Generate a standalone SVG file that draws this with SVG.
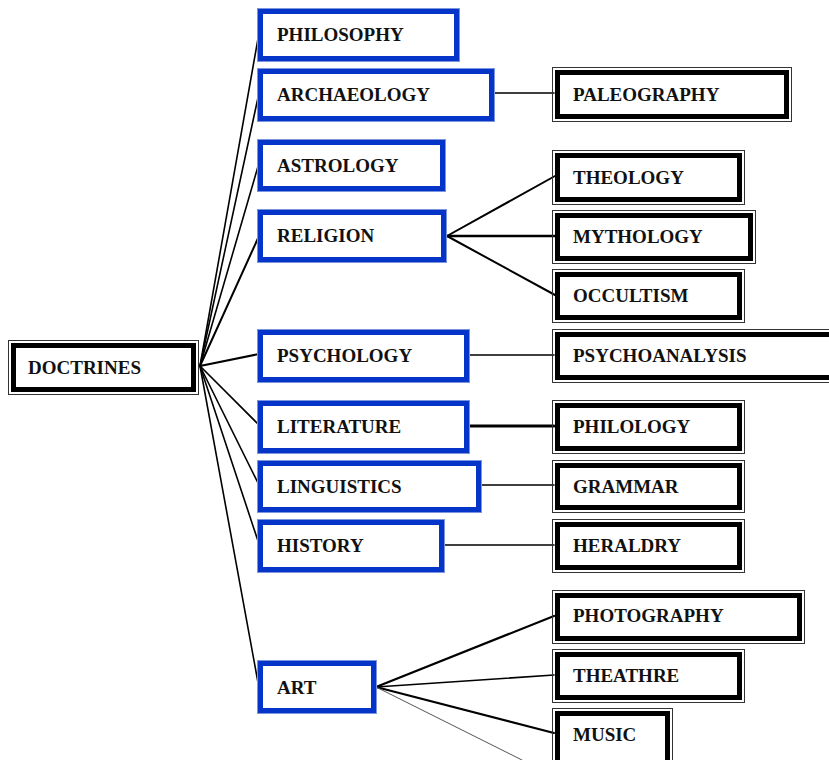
<svg xmlns="http://www.w3.org/2000/svg" width="829" height="760" viewBox="0 0 829 760">
<style>
.bo{fill:none;stroke:#7d95de;stroke-width:1}
.bi{fill:none;stroke:#0535c8;stroke-width:5}
.ko{fill:none;stroke:#333;stroke-width:1}
.ki{fill:none;stroke:#000;stroke-width:5}
.t{font-family:"Liberation Serif","Times New Roman",serif;font-weight:bold;font-size:19px;fill:#111}
.c line{stroke:#000;stroke-width:1.6;stroke-linecap:round}
</style>
<rect width="829" height="760" fill="#fff"/>
<g id="connectors" class="c">
<line x1="200" y1="366" x2="259" y2="33"/>
<line x1="200" y1="366" x2="259" y2="93"/>
<line x1="200" y1="366" x2="259" y2="163"/>
<line x1="200" y1="366" x2="259" y2="236" style="stroke-width:2"/>
<line x1="200" y1="366" x2="259" y2="354" style="stroke-width:2"/>
<line x1="200" y1="366" x2="259" y2="425"/>
<line x1="200" y1="366" x2="259" y2="485"/>
<line x1="200" y1="366" x2="259" y2="544"/>
<line x1="200" y1="366" x2="259" y2="688"/>
<line x1="495" y1="93" x2="554" y2="93"/>
<line x1="447" y1="236" x2="555" y2="176" style="stroke-width:2"/>
<line x1="447" y1="236" x2="555" y2="236" style="stroke-width:2.5"/>
<line x1="447" y1="236" x2="555" y2="295" style="stroke-width:2"/>
<line x1="470" y1="355" x2="554" y2="355"/>
<line x1="470" y1="426" x2="554" y2="426" style="stroke-width:3"/>
<line x1="482" y1="485" x2="554" y2="485"/>
<line x1="445" y1="545" x2="554" y2="545"/>
<line x1="376" y1="687" x2="554" y2="616" style="stroke-width:2.2"/>
<line x1="376" y1="687" x2="554" y2="675"/>
<line x1="376" y1="687" x2="554" y2="733" style="stroke-width:2"/>
<line x1="376" y1="687" x2="522" y2="760" style="stroke-width:1;stroke:#555"/>
</g>
<g id="doctrines"><rect class="ko" x="8.5" y="340.5" width="190" height="54"/><rect class="ki" x="13.5" y="345.5" width="180" height="44"/><text class="t" x="28" y="374">DOCTRINES</text></g>
<g id="philosophy"><rect class="bo" x="257.5" y="8.5" width="202" height="53"/><rect class="bi" x="260.5" y="11.5" width="196" height="47"/><text class="t" x="277" y="41">PHILOSOPHY</text></g>
<g id="archaeology"><rect class="bo" x="257.5" y="68.5" width="237" height="53"/><rect class="bi" x="260.5" y="71.5" width="231" height="47"/><text class="t" x="277" y="101">ARCHAEOLOGY</text></g>
<g id="astrology"><rect class="bo" x="257.5" y="139.5" width="188" height="52"/><rect class="bi" x="260.5" y="142.5" width="182" height="46"/><text class="t" x="277" y="172">ASTROLOGY</text></g>
<g id="religion"><rect class="bo" x="257.5" y="209.5" width="189" height="53"/><rect class="bi" x="260.5" y="212.5" width="183" height="47"/><text class="t" x="277" y="242">RELIGION</text></g>
<g id="psychology"><rect class="bo" x="257.5" y="329.5" width="212" height="53"/><rect class="bi" x="260.5" y="332.5" width="206" height="47"/><text class="t" x="277" y="362">PSYCHOLOGY</text></g>
<g id="literature"><rect class="bo" x="257.5" y="400.5" width="212" height="53"/><rect class="bi" x="260.5" y="403.5" width="206" height="47"/><text class="t" x="277" y="433">LITERATURE</text></g>
<g id="linguistics"><rect class="bo" x="257.5" y="460.5" width="224" height="52"/><rect class="bi" x="260.5" y="463.5" width="218" height="46"/><text class="t" x="277" y="493">LINGUISTICS</text></g>
<g id="history"><rect class="bo" x="257.5" y="519.5" width="187" height="53"/><rect class="bi" x="260.5" y="522.5" width="181" height="47"/><text class="t" x="277" y="552">HISTORY</text></g>
<g id="art"><rect class="bo" x="257.5" y="660.5" width="119" height="53"/><rect class="bi" x="260.5" y="663.5" width="113" height="47"/><text class="t" x="277" y="694">ART</text></g>
<g id="paleography"><rect class="ko" x="552.5" y="67.5" width="239" height="54"/><rect class="ki" x="557.5" y="72.5" width="229" height="44"/><text class="t" x="573" y="101">PALEOGRAPHY</text></g>
<g id="theology"><rect class="ko" x="552.5" y="150.5" width="192" height="54"/><rect class="ki" x="557.5" y="155.5" width="182" height="44"/><text class="t" x="573" y="184">THEOLOGY</text></g>
<g id="mythology"><rect class="ko" x="552.5" y="210.5" width="203" height="53"/><rect class="ki" x="557.5" y="215.5" width="193" height="43"/><text class="t" x="573" y="243">MYTHOLOGY</text></g>
<g id="occultism"><rect class="ko" x="552.5" y="269.5" width="192" height="53"/><rect class="ki" x="557.5" y="274.5" width="182" height="43"/><text class="t" x="573" y="302">OCCULTISM</text></g>
<g id="psychoanalysis"><rect class="ko" x="552.5" y="329.5" width="297" height="53"/><rect class="ki" x="557.5" y="334.5" width="287" height="43"/><text class="t" x="573" y="362">PSYCHOANALYSIS</text></g>
<g id="philology"><rect class="ko" x="552.5" y="400.5" width="192" height="53"/><rect class="ki" x="557.5" y="405.5" width="182" height="43"/><text class="t" x="573" y="433">PHILOLOGY</text></g>
<g id="grammar"><rect class="ko" x="552.5" y="460.5" width="192" height="52"/><rect class="ki" x="557.5" y="465.5" width="182" height="42"/><text class="t" x="573" y="493">GRAMMAR</text></g>
<g id="heraldry"><rect class="ko" x="552.5" y="519.5" width="192" height="53"/><rect class="ki" x="557.5" y="524.5" width="182" height="43"/><text class="t" x="573" y="552">HERALDRY</text></g>
<g id="photography"><rect class="ko" x="552.5" y="590.5" width="252" height="53"/><rect class="ki" x="557.5" y="595.5" width="242" height="43"/><text class="t" x="573" y="622">PHOTOGRAPHY</text></g>
<g id="theathre"><rect class="ko" x="552.5" y="649.5" width="192" height="53"/><rect class="ki" x="557.5" y="654.5" width="182" height="43"/><text class="t" x="573" y="682">THEATHRE</text></g>
<g id="music"><rect class="ko" x="552.5" y="708.5" width="120" height="60"/><rect class="ki" x="557.5" y="713.5" width="110" height="60"/><text class="t" x="573" y="741">MUSIC</text></g>
</svg>
